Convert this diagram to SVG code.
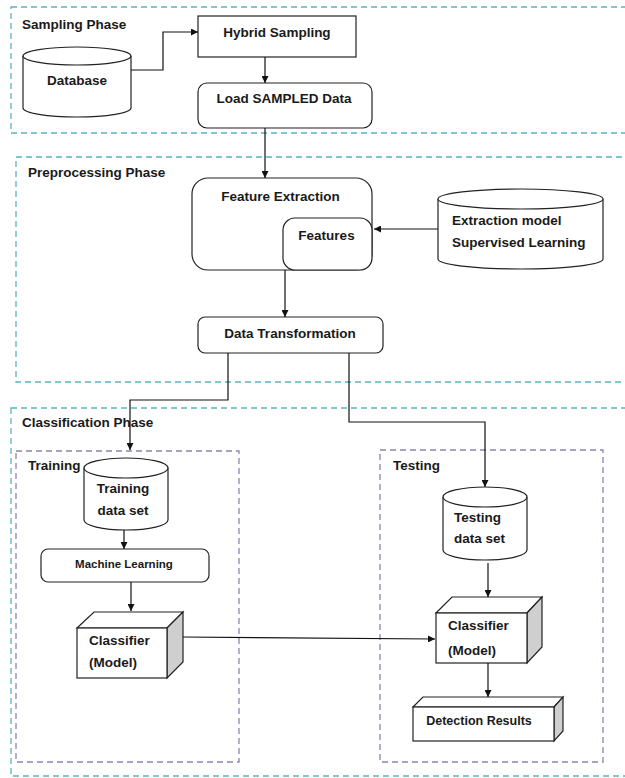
<svg xmlns="http://www.w3.org/2000/svg" width="625" height="778" viewBox="0 0 625 778">
<defs>
<marker id="ah" viewBox="0 0 10 10" refX="10" refY="5" markerWidth="7" markerHeight="7" orient="auto" markerUnits="userSpaceOnUse">
<path d="M0,0 L10,5 L0,10 Z" fill="#111"/>
</marker>
<style>
.phase{fill:none;stroke:#5ab4c0;stroke-width:1.3;stroke-dasharray:6,4}
.sub{fill:none;stroke:#8f84ad;stroke-width:1.3;stroke-dasharray:6,4}
.box{fill:#fff;stroke:#222;stroke-width:1.2}
.side{fill:#cfcfcf;stroke:#222;stroke-width:1.2}
.t{font-family:"Liberation Sans",Arial,sans-serif;font-weight:bold;font-size:13.5px;fill:#1a1a1a}
.c{text-anchor:middle}
.conn path{fill:none;stroke:#111;stroke-width:1.2;marker-end:url(#ah)}
</style>
</defs>
<rect width="625" height="778" fill="#fff"/>

<g id="sampling-phase">
<rect class="phase" x="11" y="7" width="620" height="126"/>
<text class="t" x="22" y="29">Sampling Phase</text>
</g>
<g id="preprocessing-phase">
<rect class="phase" x="16" y="157" width="615" height="225"/>
<text class="t" x="28" y="177">Preprocessing Phase</text>
</g>
<g id="classification-phase">
<rect class="phase" x="11" y="408" width="620" height="368"/>
<text class="t" x="22" y="427">Classification Phase</text>
</g>
<g id="training">
<rect class="sub" x="16" y="451" width="223" height="311"/>
<text class="t" x="28" y="470">Training</text>
</g>
<g id="testing">
<rect class="sub" x="380" y="450" width="223" height="312"/>
<text class="t" x="393" y="470">Testing</text>
</g>

<g id="database">
<path class="box" d="M23,56 A54,9 0 0 1 131,56 V108 A54,9 0 0 1 23,108 Z"/>
<path class="box" fill="none" d="M23,56 A54,9 0 0 0 131,56"/>
<text class="t c" x="77" y="85">Database</text>
</g>
<g id="hybrid-sampling">
<rect class="box" x="198" y="16" width="158" height="41"/>
<text class="t c" x="277" y="37">Hybrid Sampling</text>
</g>
<g id="load-sampled-data">
<rect class="box" x="198" y="83" width="174" height="45" rx="9"/>
<text class="t c" x="284" y="103">Load SAMPLED Data</text>
</g>
<g id="feature-extraction">
<rect class="box" x="192" y="178" width="180" height="92" rx="16"/>
<text class="t c" x="280.5" y="201">Feature Extraction</text>
</g>
<g id="features">
<rect class="box" x="283" y="218" width="89" height="52" rx="12"/>
<text class="t c" x="326.5" y="240">Features</text>
</g>
<g id="extraction-model">
<path class="box" d="M438,199 A82.5,10 0 0 1 603,199 V259 A82.5,10 0 0 1 438,259 Z"/>
<path class="box" fill="none" d="M438,199 A82.5,10 0 0 0 603,199"/>
<text class="t" x="452" y="225">Extraction model</text>
<text class="t" x="452" y="247">Supervised Learning</text>
</g>
<g id="data-transformation">
<rect class="box" x="198" y="317" width="185" height="36" rx="7"/>
<text class="t c" x="290" y="338">Data Transformation</text>
</g>
<g id="training-data-set">
<path class="box" d="M84,468 A42,10 0 0 1 168,468 V520 A42,10 0 0 1 84,520 Z"/>
<path class="box" fill="none" d="M84,468 A42,10 0 0 0 168,468"/>
<text class="t c" x="123" y="493">Training</text>
<text class="t c" x="123" y="515">data set</text>
</g>
<g id="machine-learning">
<rect class="box" x="41" y="549" width="168" height="33" rx="7"/>
<text class="t c" x="124" y="568" style="font-size:11.5px">Machine Learning</text>
</g>
<g id="classifier-training">
<path class="box" d="M77,628 L94,612 L183,612 L167,628 Z"/>
<path class="side" d="M167,628 L183,612 L183,662 L167,678 Z"/>
<rect class="box" x="77" y="628" width="90" height="50"/>
<text class="t" x="89" y="645">Classifier</text>
<text class="t" x="89" y="667">(Model)</text>
</g>
<g id="testing-data-set">
<path class="box" d="M443,497 A42,10 0 0 1 527,497 V550 A42,10 0 0 1 443,550 Z"/>
<path class="box" fill="none" d="M443,497 A42,10 0 0 0 527,497"/>
<text class="t" x="454" y="522">Testing</text>
<text class="t" x="454" y="543">data set</text>
</g>
<g id="classifier-testing">
<path class="box" d="M436,613 L452,597 L542,597 L527,613 Z"/>
<path class="side" d="M527,613 L542,597 L542,647 L527,663 Z"/>
<rect class="box" x="436" y="613" width="91" height="50"/>
<text class="t" x="448" y="630">Classifier</text>
<text class="t" x="448" y="655">(Model)</text>
</g>
<g id="detection-results">
<path class="box" d="M413,707 L423,697 L563,697 L554,707 Z"/>
<path class="side" d="M554,707 L563,697 L563,731 L554,741 Z"/>
<rect class="box" x="413" y="707" width="141" height="34"/>
<text class="t c" x="479" y="725" style="font-size:12.5px">Detection Results</text>
</g>

<g id="connectors" class="conn">
<path d="M131,70 H163 V32 H198"/>
<path d="M265,57 V83"/>
<path d="M265,128 V178"/>
<path d="M438,229 H374"/>
<path d="M285,270 V317"/>
<path d="M228,353 V400 H130 V450"/>
<path d="M349,353 V422 H485 V487"/>
<path d="M124,530 V549"/>
<path d="M131,582 V611"/>
<path d="M183,637 L435,639"/>
<path d="M488,563 V597"/>
<path d="M488,663 V697"/>
</g>
</svg>
